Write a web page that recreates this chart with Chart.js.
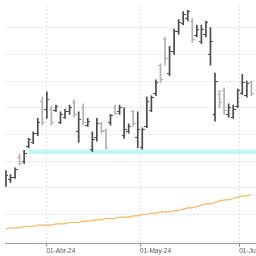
<!DOCTYPE html>
<html>
<head>
<meta charset="utf-8">
<script src="https://cdn.jsdelivr.net/npm/chart.js@4.4.1/dist/chart.umd.min.js"></script>
<style>
html, body { margin: 0; padding: 0; background: #fff; overflow: hidden; }
#marco { width: 256px; height: 256px; overflow: hidden; }
canvas { display: block; }
</style>
</head>
<body>
<div id="marco"><canvas id="grafico" width="330" height="256"></canvas></div>
<script>
// sesiones (dias de mercado)
const fechas = [
  '18-Mar-24','19-Mar-24','20-Mar-24','21-Mar-24','22-Mar-24','25-Mar-24','26-Mar-24','27-Mar-24','28-Mar-24',
  '02-Abr-24','03-Abr-24','04-Abr-24','05-Abr-24','08-Abr-24','09-Abr-24','10-Abr-24','11-Abr-24','12-Abr-24',
  '15-Abr-24','16-Abr-24','17-Abr-24','18-Abr-24','19-Abr-24','22-Abr-24','23-Abr-24','24-Abr-24','25-Abr-24',
  '26-Abr-24','29-Abr-24','30-Abr-24',
  '02-May-24','03-May-24','06-May-24','07-May-24','08-May-24','09-May-24','10-May-24','13-May-24','14-May-24',
  '15-May-24','16-May-24','17-May-24','20-May-24','21-May-24','22-May-24','23-May-24','24-May-24','27-May-24',
  '28-May-24','29-May-24','30-May-24','31-May-24',
  '03-Jun-24','04-Jun-24','05-Jun-24'
];
const apertura = [
  10.43,10.46,10.48,10.63,10.60,10.71,10.74,10.81,11.05,
  10.99,10.99,10.98,10.89,10.93,10.97,11.04,10.82,11.00,
  10.87,10.69,10.78,10.88,10.83,10.89,11.00,10.97,10.79,
  10.82,10.97,10.78,
  10.70,10.86,10.98,11.11,11.32,11.51,11.26,11.42,11.57,
  11.63,11.67,11.65,11.54,11.50,11.55,11.40,10.95,11.10,
  11.13,10.95,10.93,11.01,
  11.11,11.09,11.19
];
const maximo = [
  10.53,10.50,10.55,10.65,10.68,10.77,10.82,10.92,11.08,
  11.12,11.01,11.02,10.97,10.99,11.02,11.06,10.97,11.03,
  10.92,10.82,10.92,10.89,10.84,10.95,11.02,11.02,11.00,
  10.88,10.98,10.97,
  10.85,11.08,11.09,11.21,11.33,11.53,11.46,11.59,11.66,
  11.72,11.73,11.67,11.62,11.62,11.65,11.60,11.26,11.13,
  11.15,11.03,11.02,11.14,
  11.25,11.20,11.20
];
const minimo = [
  10.41,10.44,10.47,10.57,10.58,10.70,10.73,10.79,10.87,
  10.92,10.87,10.97,10.88,10.92,10.95,10.93,10.74,10.87,
  10.86,10.67,10.75,10.81,10.69,10.87,10.95,10.95,10.77,
  10.81,10.86,10.70,
  10.69,10.85,10.97,11.09,11.19,11.32,11.24,11.40,11.55,
  11.62,11.65,11.49,11.53,11.48,11.53,11.32,10.90,11.00,
  10.95,10.93,10.92,11.00,
  11.10,11.08,11.09
];
const cierre = [
  10.49,10.48,10.54,10.58,10.66,10.76,10.81,10.89,10.89,
  11.06,10.89,11.01,10.95,10.97,11.00,10.95,10.91,10.89,
  10.90,10.76,10.88,10.82,10.70,10.94,10.96,11.00,10.84,
  10.86,10.88,10.84,
  10.84,11.05,11.08,11.19,11.21,11.37,11.42,11.57,11.64,
  11.70,11.72,11.51,11.59,11.59,11.64,11.50,11.20,11.04,
  10.98,11.00,10.99,11.13,
  11.19,11.18,11.11
];
// media movil larga (linea naranja)
const media = [
  10.09,10.10,10.10,10.10,10.11,10.11,10.11,10.12,10.12,
  10.12,10.12,10.13,10.13,10.13,10.14,10.14,10.14,10.15,
  10.15,10.155,10.16,10.16,10.17,10.17,10.17,10.18,10.18,
  10.18,10.19,10.19,
  10.20,10.20,10.21,10.21,10.22,10.22,10.22,10.23,10.23,
  10.24,10.25,10.25,10.26,10.27,10.28,10.28,10.29,10.30,
  10.31,10.31,10.32,10.33,
  10.34,10.34,10.35
];
// zona de soporte (banda cian)
const nivelSoporte = 10.67;
const soporteDesde = 5;
const soporteHasta = 70;

const posMeses = [8.9, 29.5, 51.33];
const etiquetasMeses = ['01-Abr-24', '01-May-24', '01-Jun-24'];
const lineasPrecio = [10.0, 10.2, 10.4, 10.6, 10.8, 11.0, 11.2, 11.4, 11.6];

const oscuro = '#4a4a4a';
const claro = '#b0b0b0';

function marca(lado, color) {
  let c = document.createElement('canvas');
  c.width = 5;
  c.height = 1;
  let g = c.getContext('2d');
  g.fillStyle = color;
  g.fillRect(lado === 'izq' ? 0 : 3, 0, 2, 1);
  return c;
}
const abreOsc = marca('izq', oscuro), abreCla = marca('izq', claro);
const cierraOsc = marca('der', oscuro), cierraCla = marca('der', claro);

function sube(i) {
  return cierre[i] >= apertura[i];
}

const rejilla = '#e2e2e2';

new Chart(document.getElementById('grafico'), {
  type: 'bar',
  data: {
    datasets: [
      {
        type: 'bar',
        data: fechas.map((f, i) => ({ x: i, y: [minimo[i], maximo[i]] })),
        backgroundColor: ctx => sube(ctx.dataIndex) ? oscuro : claro,
        barThickness: 1,
        borderWidth: 0,
        order: 1
      },
      {
        type: 'scatter',
        data: fechas.map((f, i) => ({ x: i, y: apertura[i] })),
        pointStyle: ctx => sube(ctx.dataIndex) ? abreOsc : abreCla,
        order: 0
      },
      {
        type: 'scatter',
        data: fechas.map((f, i) => ({ x: i, y: cierre[i] })),
        pointStyle: ctx => sube(ctx.dataIndex) ? cierraOsc : cierraCla,
        order: 0
      },
      {
        type: 'line',
        data: fechas.map((f, i) => ({ x: i, y: media[i] })),
        borderColor: '#f9b566',
        borderWidth: 1.2,
        pointRadius: 0,
        order: 2
      },
      {
        type: 'line',
        data: [{ x: soporteDesde, y: nivelSoporte }, { x: soporteHasta, y: nivelSoporte }],
        borderColor: '#c2f5fa',
        borderWidth: 4.5,
        borderCapStyle: 'butt',
        pointRadius: 0,
        order: 3
      }
    ]
  },
  options: {
    responsive: false,
    animation: false,
    events: [],
    layout: { padding: 0 },
    plugins: { legend: { display: false }, tooltip: { enabled: false } },
    scales: {
      x: {
        type: 'linear',
        min: -0.21,
        max: 70.2,
        offset: false,
        grid: { offset: false, color: rejilla, tickColor: '#8a8a8a', tickLength: 3, tickBorderDash: [] },
        border: { color: '#9a9a9a', dash: [2, 2] },
        afterBuildTicks: s => { s.ticks = posMeses.map(v => ({ value: v })); },
        ticks: {
          autoSkip: false,
          maxRotation: 0,
          align: 'start',
          padding: 1,
          color: '#555',
          font: { family: '"Liberation Sans", Arial, sans-serif', size: 6.5, lineHeight: 1.1 },
          callback: (v, i) => etiquetasMeses[i]
        }
      },
      y: {
        type: 'linear',
        position: 'right',
        min: 9.98,
        max: 11.77,
        afterBuildTicks: s => { s.ticks = lineasPrecio.map(v => ({ value: v })); },
        ticks: { display: false },
        grid: { color: rejilla, drawTicks: false },
        border: { display: false, dash: [2, 2] }
      }
    }
  }
});
</script>
</body>
</html>
